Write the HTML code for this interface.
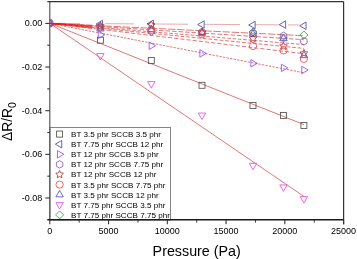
<!DOCTYPE html><html><head><meta charset="utf-8"><style>html,body{margin:0;padding:0;background:#fff;width:357px;height:259px;overflow:hidden}svg{display:block;will-change:transform}text{font-family:"Liberation Sans",sans-serif}</style></head><body>
<svg width="357" height="259" viewBox="0 0 357 259">
<rect width="357" height="259" fill="#fff"/>
<defs><clipPath id="pc"><rect x="49.8" y="1.6" width="293.8" height="218.2"/></clipPath><clipPath id="pc2"><rect x="49.6" y="1.6" width="293.8" height="218.2"/></clipPath></defs>
<g clip-path="url(#pc)">
<line x1="49.8" y1="23.3" x2="303.9" y2="124.6" stroke="#cc2424" stroke-width="0.62"/>
<line x1="52" y1="23.31" x2="80" y2="23.50" stroke="#eba0a0" stroke-width="0.9"/>
<line x1="105" y1="23.67" x2="134" y2="23.86" stroke="#eba0a0" stroke-width="0.9"/>
<line x1="152" y1="23.98" x2="188" y2="24.22" stroke="#eba0a0" stroke-width="0.9"/>
<line x1="205" y1="24.34" x2="240" y2="24.57" stroke="#eba0a0" stroke-width="0.9"/>
<line x1="255" y1="24.67" x2="279" y2="24.83" stroke="#eba0a0" stroke-width="0.9"/>
<line x1="288" y1="24.89" x2="299" y2="24.97" stroke="#eba0a0" stroke-width="0.9"/>
<line x1="49.8" y1="23.3" x2="303.9" y2="72.8" stroke="#cc2424" stroke-width="0.62" stroke-dasharray="2.4 1.2" stroke-dashoffset="0.0"/>
<line x1="49.8" y1="23.3" x2="303.9" y2="39.7" stroke="#cc2424" stroke-width="0.62" stroke-dasharray="4.5 2" stroke-dashoffset="1.0"/>
<line x1="49.8" y1="23.3" x2="303.9" y2="48.4" stroke="#cc2424" stroke-width="0.62" stroke-dasharray="3.8 1.8" stroke-dashoffset="3.0"/>
<line x1="49.8" y1="23.3" x2="303.9" y2="53.7" stroke="#cc2424" stroke-width="0.62" stroke-dasharray="4.2 2" stroke-dashoffset="5.0"/>
<line x1="49.8" y1="23.3" x2="303.9" y2="44.6" stroke="#cc2424" stroke-width="0.62" stroke-dasharray="3.5 1.8" stroke-dashoffset="2.0"/>
<line x1="49.8" y1="23.3" x2="303.9" y2="196.4" stroke="#cc2424" stroke-width="0.62"/>
<line x1="49.8" y1="23.3" x2="303.9" y2="35.7" stroke="#cc2424" stroke-width="0.62" stroke-dasharray="7.5 1.6" stroke-dashoffset="0.0"/>
<line x1="49.8" y1="23.3" x2="92" y2="25.36" stroke="#ee1a1a" stroke-width="0.5"/>
<line x1="49.8" y1="23.3" x2="92" y2="26.02" stroke="#ee1a1a" stroke-width="0.5"/>
<line x1="49.8" y1="23.3" x2="92" y2="26.84" stroke="#ee1a1a" stroke-width="0.5"/>
<line x1="49.8" y1="23.3" x2="92" y2="27.47" stroke="#ee1a1a" stroke-width="0.5"/>
<line x1="49.8" y1="23.3" x2="92" y2="28.35" stroke="#ee1a1a" stroke-width="0.5"/>
<polygon points="253.00,28.00 257.00,32.00 253.00,36.00 249.00,32.00" fill="none" stroke="#40a040" stroke-width="0.85"/>
<polygon points="283.50,34.00 287.50,38.00 283.50,42.00 279.50,38.00" fill="none" stroke="#40a040" stroke-width="0.85"/>
<polygon points="303.90,31.00 307.90,35.00 303.90,39.00 299.90,35.00" fill="none" stroke="#40a040" stroke-width="0.85"/>
<polygon points="100.40,24.50 104.12,30.95 96.68,30.95" fill="none" stroke="#5050d8" stroke-width="0.85"/>
<polygon points="151.30,25.20 155.02,31.65 147.58,31.65" fill="none" stroke="#5050d8" stroke-width="0.85"/>
<polygon points="202.00,28.20 205.72,34.65 198.28,34.65" fill="none" stroke="#5050d8" stroke-width="0.85"/>
<polygon points="253.00,29.70 256.72,36.15 249.28,36.15" fill="none" stroke="#5050d8" stroke-width="0.85"/>
<polygon points="283.50,34.20 287.22,40.65 279.78,40.65" fill="none" stroke="#5050d8" stroke-width="0.85"/>
<polygon points="303.90,51.20 307.62,57.65 300.18,57.65" fill="none" stroke="#5050d8" stroke-width="0.85"/>
<rect x="97.40" y="37.20" width="6.00" height="6.00" fill="none" stroke="#505050" stroke-width="0.85"/>
<rect x="148.30" y="57.40" width="6.00" height="6.00" fill="none" stroke="#505050" stroke-width="0.85"/>
<rect x="199.00" y="82.30" width="6.00" height="6.00" fill="none" stroke="#505050" stroke-width="0.85"/>
<rect x="250.00" y="102.50" width="6.00" height="6.00" fill="none" stroke="#505050" stroke-width="0.85"/>
<rect x="280.50" y="112.40" width="6.00" height="6.00" fill="none" stroke="#505050" stroke-width="0.85"/>
<rect x="300.90" y="122.50" width="6.00" height="6.00" fill="none" stroke="#505050" stroke-width="0.85"/>
<polygon points="96.10,24.00 102.55,20.28 102.55,27.72" fill="none" stroke="#4a4aa0" stroke-width="0.85"/>
<polygon points="147.00,23.80 153.45,20.08 153.45,27.52" fill="none" stroke="#4a4aa0" stroke-width="0.85"/>
<polygon points="197.70,24.60 204.15,20.88 204.15,28.32" fill="none" stroke="#4a4aa0" stroke-width="0.85"/>
<polygon points="248.70,25.00 255.15,21.28 255.15,28.72" fill="none" stroke="#4a4aa0" stroke-width="0.85"/>
<polygon points="279.20,24.60 285.65,20.88 285.65,28.32" fill="none" stroke="#4a4aa0" stroke-width="0.85"/>
<polygon points="299.60,25.80 306.05,22.08 306.05,29.52" fill="none" stroke="#4a4aa0" stroke-width="0.85"/>
<polygon points="104.70,34.80 98.25,38.52 98.25,31.08" fill="none" stroke="#9050f0" stroke-width="0.85"/>
<polygon points="155.60,45.80 149.15,49.52 149.15,42.08" fill="none" stroke="#9050f0" stroke-width="0.85"/>
<polygon points="206.30,53.40 199.85,57.12 199.85,49.68" fill="none" stroke="#9050f0" stroke-width="0.85"/>
<polygon points="257.30,63.30 250.85,67.02 250.85,59.58" fill="none" stroke="#9050f0" stroke-width="0.85"/>
<polygon points="287.80,67.90 281.35,71.62 281.35,64.18" fill="none" stroke="#9050f0" stroke-width="0.85"/>
<polygon points="308.20,70.00 301.75,73.72 301.75,66.28" fill="none" stroke="#9050f0" stroke-width="0.85"/>
<polygon points="100.40,23.90 103.60,25.75 103.60,29.45 100.40,31.30 97.20,29.45 97.20,25.75" fill="none" stroke="#8a58b0" stroke-width="0.85"/>
<polygon points="151.30,27.70 154.50,29.55 154.50,33.25 151.30,35.10 148.10,33.25 148.10,29.55" fill="none" stroke="#8a58b0" stroke-width="0.85"/>
<polygon points="202.00,28.30 205.20,30.15 205.20,33.85 202.00,35.70 198.80,33.85 198.80,30.15" fill="none" stroke="#8a58b0" stroke-width="0.85"/>
<polygon points="253.00,29.60 256.20,31.45 256.20,35.15 253.00,37.00 249.80,35.15 249.80,31.45" fill="none" stroke="#8a58b0" stroke-width="0.85"/>
<polygon points="283.50,32.10 286.70,33.95 286.70,37.65 283.50,39.50 280.30,37.65 280.30,33.95" fill="none" stroke="#8a58b0" stroke-width="0.85"/>
<polygon points="303.90,37.60 307.10,39.45 307.10,43.15 303.90,45.00 300.70,43.15 300.70,39.45" fill="none" stroke="#8a58b0" stroke-width="0.85"/>
<polygon points="100.40,22.00 101.58,24.38 104.20,24.76 102.30,26.62 102.75,29.24 100.40,28.00 98.05,29.24 98.50,26.62 96.60,24.76 99.22,24.38" fill="none" stroke="#a83838" stroke-width="0.85"/>
<polygon points="151.30,21.00 152.48,23.38 155.10,23.76 153.20,25.62 153.65,28.24 151.30,27.00 148.95,28.24 149.40,25.62 147.50,23.76 150.12,23.38" fill="none" stroke="#a83838" stroke-width="0.85"/>
<polygon points="202.00,28.40 203.18,30.78 205.80,31.16 203.90,33.02 204.35,35.64 202.00,34.40 199.65,35.64 200.10,33.02 198.20,31.16 200.82,30.78" fill="none" stroke="#a83838" stroke-width="0.85"/>
<polygon points="253.00,34.50 254.18,36.88 256.80,37.26 254.90,39.12 255.35,41.74 253.00,40.50 250.65,41.74 251.10,39.12 249.20,37.26 251.82,36.88" fill="none" stroke="#a83838" stroke-width="0.85"/>
<polygon points="283.50,42.20 284.68,44.58 287.30,44.96 285.40,46.82 285.85,49.44 283.50,48.20 281.15,49.44 281.60,46.82 279.70,44.96 282.32,44.58" fill="none" stroke="#a83838" stroke-width="0.85"/>
<polygon points="303.90,49.30 305.08,51.68 307.70,52.06 305.80,53.92 306.25,56.54 303.90,55.30 301.55,56.54 302.00,53.92 300.10,52.06 302.72,51.68" fill="none" stroke="#a83838" stroke-width="0.85"/>
<circle cx="100.40" cy="26.50" r="3.60" fill="none" stroke="#e05050" stroke-width="0.85"/>
<circle cx="151.30" cy="29.90" r="3.60" fill="none" stroke="#e05050" stroke-width="0.85"/>
<circle cx="202.00" cy="34.30" r="3.60" fill="none" stroke="#e05050" stroke-width="0.85"/>
<circle cx="253.00" cy="46.00" r="3.60" fill="none" stroke="#e05050" stroke-width="0.85"/>
<circle cx="283.50" cy="50.40" r="3.60" fill="none" stroke="#e05050" stroke-width="0.85"/>
<circle cx="303.90" cy="58.90" r="3.60" fill="none" stroke="#e05050" stroke-width="0.85"/>
<polygon points="100.40,60.05 96.68,53.60 104.12,53.60" fill="none" stroke="#e050e0" stroke-width="0.85"/>
<polygon points="151.30,88.10 147.58,81.65 155.02,81.65" fill="none" stroke="#e050e0" stroke-width="0.85"/>
<polygon points="202.00,119.50 198.28,113.05 205.72,113.05" fill="none" stroke="#e050e0" stroke-width="0.85"/>
<polygon points="253.00,169.75 249.28,163.30 256.72,163.30" fill="none" stroke="#e050e0" stroke-width="0.85"/>
<polygon points="283.50,191.35 279.78,184.90 287.22,184.90" fill="none" stroke="#e050e0" stroke-width="0.85"/>
<polygon points="303.90,203.05 300.18,196.60 307.62,196.60" fill="none" stroke="#e050e0" stroke-width="0.85"/>
</g>
<rect x="50" y="127.5" width="120.5" height="92.5" fill="#fff" stroke="#777" stroke-width="0.9"/>
<rect x="56.60" y="131.10" width="6.00" height="6.00" fill="none" stroke="#505050" stroke-width="0.85"/>
<text x="71" y="137.00" font-size="8.1" fill="#000">BT 3.5 phr SCCB 3.5 phr</text>
<polygon points="55.30,144.20 61.75,140.48 61.75,147.92" fill="none" stroke="#4a4aa0" stroke-width="0.85"/>
<text x="71" y="147.10" font-size="8.1" fill="#000">BT 7.75 phr SCCB 12 phr</text>
<polygon points="63.90,154.30 57.45,158.02 57.45,150.58" fill="none" stroke="#9050f0" stroke-width="0.85"/>
<text x="71" y="157.20" font-size="8.1" fill="#000">BT 12 phr SCCB 3.5 phr</text>
<polygon points="59.60,160.70 62.80,162.55 62.80,166.25 59.60,168.10 56.40,166.25 56.40,162.55" fill="none" stroke="#8a58b0" stroke-width="0.85"/>
<text x="71" y="167.30" font-size="8.1" fill="#000">BT 12 phr SCCB 7.75 phr</text>
<polygon points="59.60,170.50 60.78,172.88 63.40,173.26 61.50,175.12 61.95,177.74 59.60,176.50 57.25,177.74 57.70,175.12 55.80,173.26 58.42,172.88" fill="none" stroke="#a83838" stroke-width="0.85"/>
<text x="71" y="177.40" font-size="8.1" fill="#000">BT 12 phr SCCB 12 phr</text>
<circle cx="59.60" cy="184.60" r="3.60" fill="none" stroke="#e05050" stroke-width="0.85"/>
<text x="71" y="187.50" font-size="8.1" fill="#000">BT 3.5 phr SCCB 7.75 phr</text>
<polygon points="59.60,190.40 63.32,196.85 55.88,196.85" fill="none" stroke="#5050d8" stroke-width="0.85"/>
<text x="71" y="197.60" font-size="8.1" fill="#000">BT 3.5 phr SCCB 12 phr</text>
<polygon points="59.60,209.10 55.88,202.65 63.32,202.65" fill="none" stroke="#e050e0" stroke-width="0.85"/>
<text x="71" y="207.70" font-size="8.1" fill="#000">BT 7.75 phr SCCB 3.5 phr</text>
<polygon points="59.60,210.90 63.60,214.90 59.60,218.90 55.60,214.90" fill="none" stroke="#40a040" stroke-width="0.85"/>
<text x="71" y="217.80" font-size="8.1" fill="#000">BT 7.75 phr SCCB 7.75 phr</text>
<line x1="49.8" y1="1.6" x2="49.8" y2="220" stroke="#4a4a4a" stroke-width="1.1"/>
<line x1="47.3" y1="1.6" x2="343.6" y2="1.6" stroke="#333" stroke-width="1.2"/>
<line x1="343.6" y1="1.6" x2="343.6" y2="224.3" stroke="#333" stroke-width="1.2"/>
<line x1="47.3" y1="219.8" x2="343.6" y2="219.8" stroke="#1a1a1a" stroke-width="1.4"/>
<line x1="45.3" y1="23.42" x2="49.8" y2="23.42" stroke="#333" stroke-width="1.1"/>
<text x="42.3" y="26.32" font-size="9" fill="#000" text-anchor="end">0.00</text>
<line x1="47.3" y1="45.24" x2="49.8" y2="45.24" stroke="#333" stroke-width="1.1"/>
<line x1="45.3" y1="67.06" x2="49.8" y2="67.06" stroke="#333" stroke-width="1.1"/>
<text x="42.3" y="69.96" font-size="9" fill="#000" text-anchor="end">-0.02</text>
<line x1="47.3" y1="88.88" x2="49.8" y2="88.88" stroke="#333" stroke-width="1.1"/>
<line x1="45.3" y1="110.70" x2="49.8" y2="110.70" stroke="#333" stroke-width="1.1"/>
<text x="42.3" y="113.60" font-size="9" fill="#000" text-anchor="end">-0.04</text>
<line x1="47.3" y1="132.52" x2="49.8" y2="132.52" stroke="#333" stroke-width="1.1"/>
<line x1="45.3" y1="154.34" x2="49.8" y2="154.34" stroke="#333" stroke-width="1.1"/>
<text x="42.3" y="157.24" font-size="9" fill="#000" text-anchor="end">-0.06</text>
<line x1="47.3" y1="176.16" x2="49.8" y2="176.16" stroke="#333" stroke-width="1.1"/>
<line x1="45.3" y1="197.98" x2="49.8" y2="197.98" stroke="#333" stroke-width="1.1"/>
<text x="42.3" y="200.88" font-size="9" fill="#000" text-anchor="end">-0.08</text>
<line x1="49.80" y1="219.8" x2="49.80" y2="224.3" stroke="#333" stroke-width="1.1"/>
<text x="49.80" y="234.3" font-size="9" fill="#000" text-anchor="middle">0</text>
<line x1="79.18" y1="219.8" x2="79.18" y2="222.6" stroke="#333" stroke-width="1"/>
<line x1="108.56" y1="219.8" x2="108.56" y2="224.3" stroke="#333" stroke-width="1.1"/>
<text x="108.56" y="234.3" font-size="9" fill="#000" text-anchor="middle">5000</text>
<line x1="137.94" y1="219.8" x2="137.94" y2="222.6" stroke="#333" stroke-width="1"/>
<line x1="167.32" y1="219.8" x2="167.32" y2="224.3" stroke="#333" stroke-width="1.1"/>
<text x="167.32" y="234.3" font-size="9" fill="#000" text-anchor="middle">10000</text>
<line x1="196.70" y1="219.8" x2="196.70" y2="222.6" stroke="#333" stroke-width="1"/>
<line x1="226.08" y1="219.8" x2="226.08" y2="224.3" stroke="#333" stroke-width="1.1"/>
<text x="226.08" y="234.3" font-size="9" fill="#000" text-anchor="middle">15000</text>
<line x1="255.46" y1="219.8" x2="255.46" y2="222.6" stroke="#333" stroke-width="1"/>
<line x1="284.84" y1="219.8" x2="284.84" y2="224.3" stroke="#333" stroke-width="1.1"/>
<text x="284.84" y="234.3" font-size="9" fill="#000" text-anchor="middle">20000</text>
<line x1="314.22" y1="219.8" x2="314.22" y2="222.6" stroke="#333" stroke-width="1"/>
<line x1="343.60" y1="219.8" x2="343.60" y2="224.3" stroke="#333" stroke-width="1.1"/>
<text x="343.60" y="234.3" font-size="9" fill="#000" text-anchor="middle">25000</text>
<g clip-path="url(#pc2)">
<polygon points="49.80,19.00 53.52,25.45 46.08,25.45" fill="none" stroke="#5050d8" stroke-width="0.85"/>
<polygon points="45.50,23.30 51.95,19.58 51.95,27.02" fill="none" stroke="#4a4aa0" stroke-width="0.85"/>
<polygon points="49.80,19.60 53.00,21.45 53.00,25.15 49.80,27.00 46.60,25.15 46.60,21.45" fill="none" stroke="#8a58b0" stroke-width="0.85"/>
<line x1="49.8" y1="23.3" x2="60" y2="23.80" stroke="#ee1a1a" stroke-width="0.5"/>
<line x1="49.8" y1="23.3" x2="60" y2="23.96" stroke="#ee1a1a" stroke-width="0.5"/>
<line x1="49.8" y1="23.3" x2="60" y2="24.16" stroke="#ee1a1a" stroke-width="0.5"/>
<line x1="49.8" y1="23.3" x2="60" y2="24.31" stroke="#ee1a1a" stroke-width="0.5"/>
<line x1="49.8" y1="23.3" x2="60" y2="24.52" stroke="#ee1a1a" stroke-width="0.5"/>
</g>
<text x="196.7" y="255.6" font-size="14.3" fill="#000" text-anchor="middle">Pressure (Pa)</text>
<text transform="translate(11.8,121.5) rotate(-90)" font-size="13.8" fill="#000" text-anchor="middle">ΔR/R<tspan font-size="10.5" dy="4">0</tspan></text>
</svg></body></html>
